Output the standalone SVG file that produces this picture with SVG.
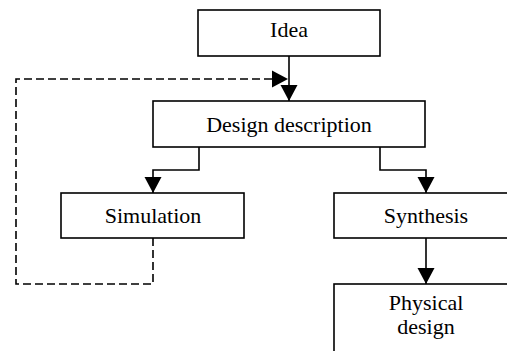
<svg xmlns="http://www.w3.org/2000/svg" width="507" height="351" viewBox="0 0 507 351">
<style>
.box{fill:#fff;stroke:#000;stroke-width:1.6}
.lbl{font-family:"Liberation Serif","Times New Roman",serif;font-size:22px;fill:#000;text-anchor:middle}
.edge{fill:none;stroke:#000;stroke-width:1.6}
.dash{stroke-dasharray:8,4}
</style>
<defs>
<marker id="ah" markerUnits="userSpaceOnUse" markerWidth="18" markerHeight="18" viewBox="0 0 18 18" refX="16" refY="9" orient="auto">
<path d="M0,0.5 L16,9 L0,17.5 Z" fill="#000"/>
</marker>
</defs>
<rect width="507" height="351" fill="#fff"/>
<g id="connectors">
<path class="edge" d="M289,56 V101" marker-end="url(#ah)"/>
<path class="edge" d="M199,147 V170 H153 V193" marker-end="url(#ah)"/>
<path class="edge" d="M380,147 V170 H426 V193" marker-end="url(#ah)"/>
<path class="edge" d="M426,238 V284" marker-end="url(#ah)"/>
<path class="edge dash" d="M153,238 V284 H16 V79 H288" marker-end="url(#ah)"/>
</g>
<g id="idea">
<rect class="box" x="198" y="10" width="182" height="46"/>
<text class="lbl" x="289" y="37">Idea</text>
</g>
<g id="design-description">
<rect class="box" x="153" y="101" width="272" height="46"/>
<text class="lbl" x="289" y="132">Design description</text>
</g>
<g id="simulation">
<rect class="box" x="61" y="193" width="183" height="45"/>
<text class="lbl" x="153" y="223">Simulation</text>
</g>
<g id="synthesis">
<rect class="box" x="334" y="193" width="184" height="45"/>
<text class="lbl" x="426" y="223">Synthesis</text>
</g>
<g id="physical-design">
<rect class="box" x="334" y="284" width="184" height="80"/>
<text class="lbl" x="426" y="310">Physical</text>
<text class="lbl" x="426" y="334">design</text>
</g>
</svg>
